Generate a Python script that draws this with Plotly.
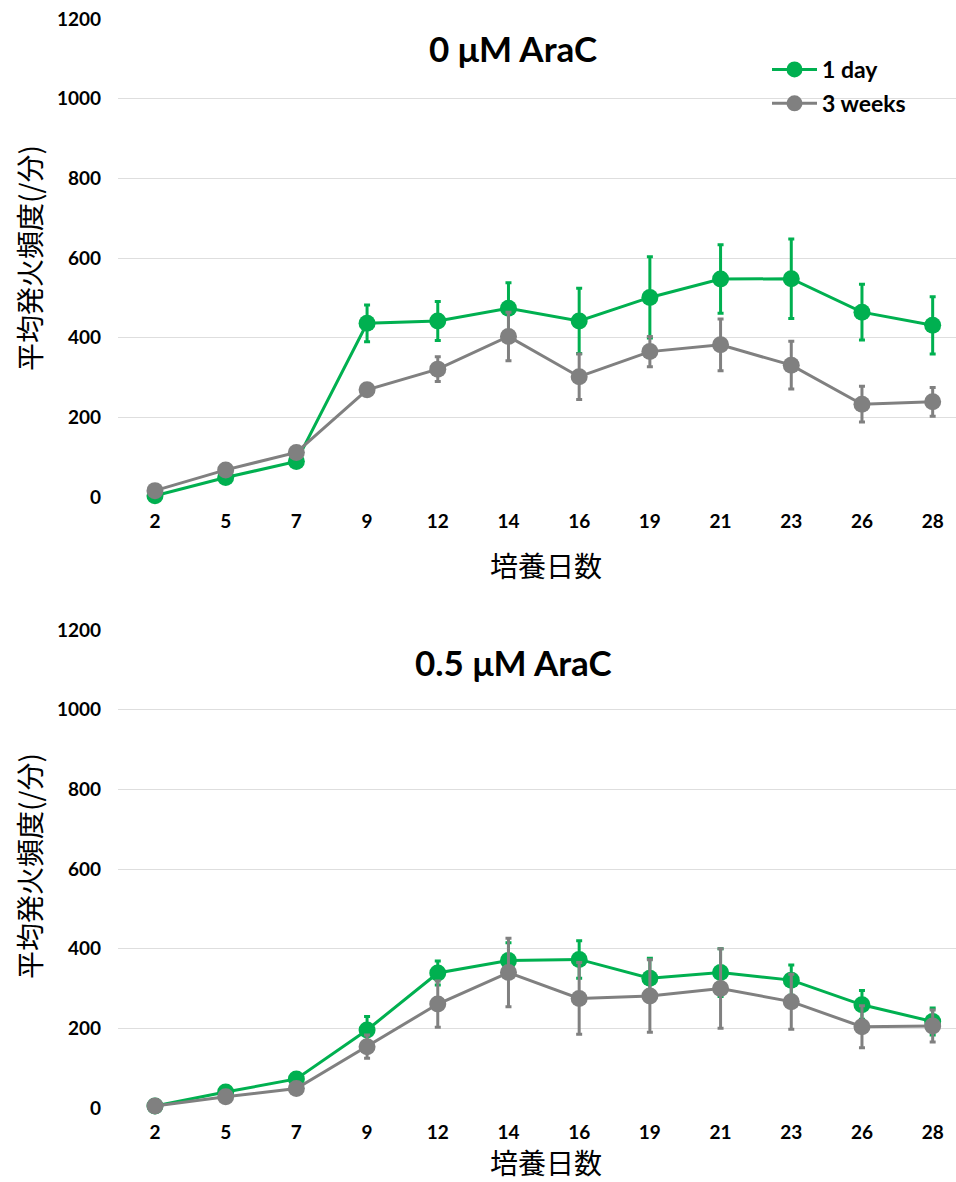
import plotly.graph_objects as go

# Culture days (x categories)
days = ["2", "5", "7", "9", "12", "14", "16", "19", "21", "23", "26", "28"]

# 0 µM AraC: mean firing frequency (/min) and error
aracs0_1day = [3, 49, 89, 436, 442, 474, 442, 501, 547, 548, 464, 431]
aracs0_1day_err = [5, 8, 8, 46, 49, 64, 82, 102, 86, 100, 70, 72]
aracs0_3wk = [16, 68, 112, 269, 321, 403, 302, 365, 382, 331, 233, 239]
aracs0_3wk_err = [6, 8, 10, 15, 31, 61, 57, 38, 65, 60, 45, 36]

# 0.5 µM AraC
aracs05_1day = [5, 40, 73, 196, 339, 370, 373, 326, 340, 321, 259, 217]
aracs05_1day_err = [3, 6, 8, 34, 30, 45, 47, 50, 60, 38, 36, 34]
aracs05_3wk = [5, 28, 49, 154, 261, 340, 275, 281, 300, 267, 204, 206]
aracs05_3wk_err = [3, 5, 6, 29, 58, 86, 90, 91, 100, 69, 53, 40]

series_names = ["1 day", "3 weeks"]
colors = ["#00B050", "#808080"]

W, H = 956, 1182
FONT = "Lato, 'Noto Sans CJK JP', sans-serif"
CJK = "'Noto Sans CJK JP', sans-serif"

fig = go.Figure()

panels = [
    ("x", "y", [(aracs0_1day, aracs0_1day_err), (aracs0_3wk, aracs0_3wk_err)], True),
    ("x2", "y2", [(aracs05_1day, aracs05_1day_err), (aracs05_3wk, aracs05_3wk_err)], False),
]

for xa, ya, series, show in panels:
    for i, (vals, errs) in enumerate(series):
        fig.add_trace(go.Scatter(
            x=days, y=vals, xaxis=xa, yaxis=ya,
            name=series_names[i], legendgroup=series_names[i],
            showlegend=show, mode="lines+markers",
            line=dict(color=colors[i], width=3),
            marker=dict(color=colors[i], size=17),
            error_y=dict(type="data", array=errs, color=colors[i],
                         thickness=3, width=3),
            cliponaxis=False,
        ))


def px_x(p):
    return p / W


def px_y(p):
    return 1 - p / H


xdom = [px_x(118), 1.0]
ytop = [px_y(497), px_y(19)]
ybot = [px_y(1108), px_y(630)]
xrange = [-0.523, 11.33]

common_x = dict(
    type="category", range=xrange, domain=xdom, showgrid=False,
    zeroline=False, showline=False, ticks="", automargin=False,
    tickfont=dict(family=FONT, size=19, color="#000000", weight="bold"),
    ticklabelstandoff=11,
)
common_y = dict(
    range=[0, 1200], dtick=200, showgrid=True, gridcolor="#DEDEDE",
    gridwidth=1, zeroline=False, showline=False, ticks="", automargin=False,
    tickfont=dict(family=FONT, size=19, color="#000000", weight="bold"),
    ticklabelstandoff=16,
)

fig.update_layout(
    width=W, height=H,
    margin=dict(l=0, r=0, t=0, b=0, autoexpand=False),
    paper_bgcolor="#FFFFFF", plot_bgcolor="#FFFFFF",
    xaxis=dict(anchor="y", **common_x),
    yaxis=dict(anchor="x", domain=ytop, **common_y),
    xaxis2=dict(anchor="y2", **common_x),
    yaxis2=dict(anchor="x2", domain=ybot, **common_y),
    showlegend=True,
    legend=dict(
        x=px_x(767), y=px_y(48), xanchor="left", yanchor="top",
        font=dict(family=FONT, size=23, color="#000000", weight="bold"),
        bgcolor="rgba(0,0,0,0)", traceorder="grouped", tracegroupgap=1,
        itemwidth=45,
    ),
)

annotations = [
    dict(text="0 μM AraC", x=px_x(513), y=px_y(48), size=35, bold=True),
    dict(text="0.5 μM AraC", x=px_x(513), y=px_y(662), size=35, bold=True),
    dict(text="培養日数", x=px_x(546), y=px_y(565), size=28, bold=False, cjk=True),
    dict(text="培養日数", x=px_x(546), y=px_y(1162), size=28, bold=False, cjk=True),
    dict(text="平均発火頻度(/分)", x=px_x(29), y=px_y(258), size=28, bold=False,
         cjk=True, angle=-90),
    dict(text="平均発火頻度(/分)", x=px_x(29), y=px_y(866), size=28, bold=False,
         cjk=True, angle=-90),
]
for a in annotations:
    fig.add_annotation(
        text=a["text"], x=a["x"], y=a["y"], xref="paper", yref="paper",
        xanchor="center", yanchor="middle", showarrow=False,
        textangle=a.get("angle", 0),
        font=dict(family=CJK if a.get("cjk") else FONT, size=a["size"],
                  color="#000000", weight="bold" if a["bold"] else "normal"),
    )

fig.write_html("out.html")
